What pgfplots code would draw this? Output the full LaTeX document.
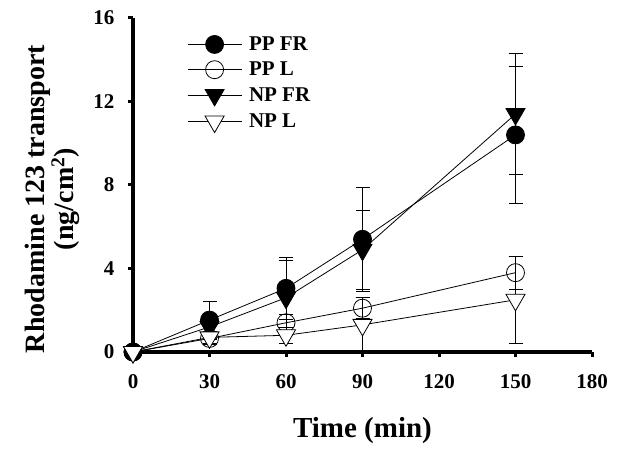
\documentclass[border=0pt]{standalone}
\usepackage{fontspec}
\setmainfont{Liberation Serif}
\usepackage{pgfplots}
\pgfplotsset{compat=1.18}
\begin{document}
\begin{tikzpicture}[x=1pt,y=1pt]
\path[use as bounding box] (0,0) rectangle (618,450);
\begin{axis}[
  at={(133pt,98pt)}, anchor=south west,
  scale only axis, width=459pt, height=334pt,
  xmin=0, xmax=180, ymin=0, ymax=16,
  clip=false,
  axis x line*=bottom, axis y line*=left,
  axis line style={line width=4pt, -},
  xtick={0,30,60,90,120,150,180},
  ytick={0,4,8,12,16},
  tick style={line width=3pt, black},
  major tick length=5pt,
  tick align=outside,
  /pgf/number format/assume math mode=true,
  ticklabel style={font=\fontsize{21}{24}\selectfont\bfseries},
  xticklabel style={yshift=-14pt},
  yticklabel style={xshift=-10pt},
  xlabel={Time (min)},
  xlabel style={font=\fontsize{29}{32}\selectfont\bfseries, yshift=-22pt},
  ylabel={Rhodamine 123 transport\\(ng/cm$^{\mathbf{2}}$)},
  ylabel style={font=\fontsize{28}{26}\selectfont\bfseries, align=center, yshift=7pt, xshift=-14pt},
  legend style={draw=none, fill=none, at={(axis cs:20,15.3)}, anchor=north west,
    font=\fontsize{21}{24}\selectfont\bfseries, row sep=6pt,
    /tikz/every odd column/.append style={column sep=5pt}},
  legend cell align=left,
  legend image code/.code={
    \draw[#1, mark repeat=2, mark phase=2] plot coordinates {(0pt,0pt) (27pt,0pt) (54pt,0pt)};},
  error bars/y dir=both, error bars/y explicit,
  error bars/error mark options={rotate=90, mark size=7pt, line width=0.8pt},
  error bars/error bar style={line width=0.8pt},
]
\addplot[black, line width=0.8pt, mark=*, mark size=9pt, mark options={fill=black}]
  coordinates {(0,0) +- (0,0) (30,1.53) +- (0,0.9) (60,3.05) +- (0,1.5) (90,5.4) +- (0,2.5) (150,10.4) +- (0,3.3)};
\addlegendentry{PP FR}
\addplot[black, line width=0.8pt, mark=o, mark size=9pt, mark options={fill=white}]
  coordinates {(0,0) +- (0,0) (30,0.65) +- (0,0.3) (60,1.4) +- (0,0.4) (90,2.1) +- (0,0.5) (150,3.8) +- (0,0.8)};
\addlegendentry{PP L}
\addplot[black, line width=0.8pt, mark=triangle*, mark size=11pt, mark options={rotate=180, fill=black}]
  coordinates {(0,0) +- (0,0) (30,1.2) +- (0,0.6) (60,2.6) +- (0,1.8) (90,4.9) +- (0,1.9) (150,11.4) +- (0,2.9)};
\addlegendentry{NP FR}
\addplot[black, line width=0.8pt, mark=triangle*, mark size=11pt, mark options={rotate=180, fill=white}]
  coordinates {(0,0) +- (0,0) (30,0.7) +- (0,0.3) (60,0.8) +- (0,0.4) (90,1.3) +- (0,1.3) (150,2.5) +- (0,2.1)};
\addlegendentry{NP L}
\end{axis}
\end{tikzpicture}
\end{document}
